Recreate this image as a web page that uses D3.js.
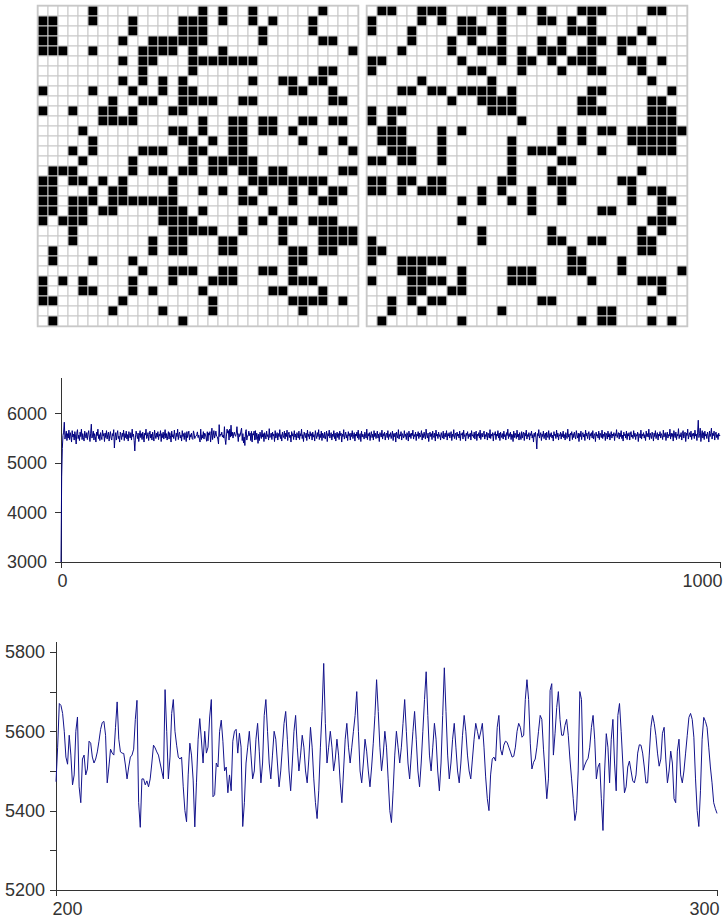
<!DOCTYPE html>
<html>
<head>
<meta charset="utf-8">
<script src="https://cdn.jsdelivr.net/npm/d3@7"></script>
<style>
body { margin: 0; background: #fff; }
svg { display: block; font-family: "Liberation Sans", Arial, sans-serif; }
.axis path, .axis line { stroke: #333; shape-rendering: crispEdges; }
.axis text { fill: #333; font-size: 18px; }
.cell { stroke: #c8c8c8; stroke-width: 1; }
</style>
</head>
<body>
<svg id="chart" width="724" height="920"></svg>
<script>
// black cells per row (column indices), 32 x 32 lattice
var gridLeft = [
  [5,16,18,21,28],
  [0,1,5,9,14,15,16,18,21,23,27],
  [0,1,9,14,15,16,22,27],
  [0,1,8,11,12,13,14,15,16,22,28,29],
  [0,1,2,5,10,11,12,13,15,18,31],
  [8,10,11,15,16,17,18,19,20,21],
  [10,15,28,29],
  [8,10,12,14,21,24,25,27,28],
  [0,5,9,12,14,15,25,26,29],
  [7,10,11,14,15,16,17,20,21,29,30],
  [0,3,6,7,9,13,14],
  [6,7,8,9,16,19,20,22,23,26,27,29,30],
  [4,13,14,16,19,20,22,23,25],
  [5,14,15,17,19,20,26,30],
  [3,5,10,11,12,15,16,19,20,28,31],
  [4,9,15,17,18,19,20,21],
  [1,2,3,9,11,12,14,15,17,18,20,21,23,24,30,31],
  [0,1,3,4,6,8,13,21,22,23,24,25,26,27,28],
  [0,1,5,7,8,13,16,18,20,22,25,27,29,30],
  [0,1,3,4,5,7,8,9,10,11,12,13,20,21,25,28,29],
  [0,1,3,4,6,7,12,13,14,16,23],
  [0,2,3,4,12,13,14,15,20,22,24,25,27,28,29],
  [3,13,14,15,16,17,20,24,28,29,30,31],
  [3,11,13,14,18,19,24,28,29,30,31],
  [1,11,13,14,18,19,25,26,28,29],
  [1,5,9,25,26],
  [10,13,14,15,18,19,22,23,25],
  [0,2,4,9,13,17,18,19,25,26,27],
  [0,4,5,9,11,16,23,24,28],
  [0,1,8,17,25,26,27,28,30],
  [7,12,17,26],
  [1,14]
];
var gridRight = [
  [1,2,5,6,7,12,13,15,17,21,22,23,28,29],
  [0,5,7,9,10,13,17,18,20,22],
  [0,4,9,10,11,13,20,21,22,27],
  [4,8,10,13,17,19,22,23,25,26,28],
  [3,8,11,12,13,15,17,18,19,21,22,25],
  [0,1,9,13,15,16,18,20,21,22,26,27,29],
  [0,10,11,15,19,22,23,27],
  [5,12,28],
  [3,4,6,7,9,10,11,12,14,22,23,30],
  [8,11,12,13,14,21,22,28,29],
  [0,2,3,12,13,14,21,22,23,28,29,30],
  [0,2,15,28,29,30],
  [1,2,3,7,9,19,21,23,24,26,27,28,29,30,31],
  [1,2,3,7,14,19,21,26,27,28,29,30],
  [2,3,4,7,14,16,17,18,23,27,28,29,30],
  [0,1,3,4,7,14,19,20],
  [14,18,27],
  [0,1,3,4,6,7,13,14,18,19,20,25,26],
  [0,1,3,5,6,7,11,13,16,19,26,28,29],
  [9,11,14,16,19,26,29,30],
  [16,23,24,29],
  [9,28,29,30],
  [11,18,27,29],
  [0,11,18,19,22,23,27,28],
  [0,1,20,27,28],
  [0,3,4,5,6,7,20,21,25],
  [3,4,5,9,14,15,16,20,21,25,31],
  [0,4,5,6,7,9,14,15,16,22,27,28,29],
  [4,5,8,9,29],
  [2,4,6,7,17,18,28],
  [2,5,13,23,24],
  [1,9,21,23,24,28,30]
];

// energy over the whole run, t = 0 .. 1000
var overviewRange = [0, 1000];
var overviewValues = [
  3000,4720,5290,5550,5620,5820,5480,5560,5640,5450,5590,5500,5660,5470,5610,5540,5420,5650,5520,5580,
  5460,5630,5540,5380,5600,5670,5490,5560,5450,5620,5530,5680,5470,5590,5510,5440,5640,5560,5500,5610,
  5470,5580,5650,5520,5430,5600,5780,5500,5560,5640,5460,5590,5530,5420,5620,5550,5680,5490,5570,5450,
  5610,5530,5470,5660,5540,5590,5430,5600,5510,5650,5480,5570,5620,5440,5560,5630,5500,5460,5590,5540,
  5670,5300,5520,5610,5460,5580,5650,5490,5540,5420,5620,5560,5470,5600,5530,5660,5450,5590,5510,5640,
  5480,5570,5440,5630,5550,5500,5610,5460,5680,5530,5580,5450,5240,5520,5640,5570,5490,5600,5430,5560,
  5650,5510,5590,5470,5620,5540,5420,5600,5560,5680,5490,5530,5610,5450,5570,5640,5500,5580,5460,5620,
  5530,5440,5660,5560,5490,5600,5520,5630,5470,5580,5540,5650,5430,5590,5510,5620,5480,5560,5670,5500,
  5590,5460,5540,5630,5480,5610,5550,5420,5640,5520,5570,5490,5660,5540,5450,5600,5530,5680,5470,5580,
  5620,5500,5560,5440,5650,5530,5590,5470,5610,5550,5430,5630,5510,5580,5640,5460,5570,5520,5600,5490,
  5473,5645,5590,5490,5530,5540,5570,5625,5510,5560,5480,5420,5680,5470,5565,5500,5630,5480,5600,5580,
  5520,5435,5628,5445,5605,5560,5630,5420,5560,5700,5470,5560,5650,5500,5560,5640,5540,5530,5480,5380,
  5771,5530,5580,5560,5620,5520,5560,5500,5730,5480,5370,5540,5680,5600,5650,5460,5680,5520,5760,5540,
  5620,5500,5580,5620,5560,5535,5600,5730,5560,5430,5590,5530,5560,5640,5700,5450,5590,5400,5520,5350,
  5630,5670,5460,5545,5540,5640,5550,5600,5450,5635,5420,5590,5560,5640,5460,5650,5470,5600,5540,5393,
  5580,5450,5620,5540,5490,5660,5520,5590,5430,5610,5560,5480,5640,5530,5570,5460,5690,5510,5550,5600,
  5470,5620,5540,5580,5430,5650,5500,5560,5610,5460,5590,5530,5670,5490,5570,5440,5620,5550,5510,5640,
  5480,5600,5530,5660,5450,5580,5620,5510,5560,5420,5630,5540,5590,5470,5650,5520,5580,5460,5610,5550,
  5500,5640,5470,5590,5540,5680,5490,5570,5430,5620,5560,5510,5600,5450,5660,5530,5580,5480,5630,5540,
  5590,5460,5620,5520,5570,5440,5650,5550,5490,5610,5530,5670,5470,5580,5510,5640,5450,5600,5560,5500,
  5620,5480,5560,5640,5430,5590,5540,5660,5500,5570,5610,5460,5580,5530,5650,5490,5600,5440,5560,5620,
  5510,5590,5470,5640,5550,5600,5420,5580,5530,5670,5480,5560,5620,5500,5570,5450,5630,5540,5590,5460,
  5600,5530,5650,5490,5570,5610,5440,5580,5540,5620,5500,5660,5470,5560,5590,5430,5640,5520,5580,5550,
  5480,5620,5560,5500,5680,5470,5590,5540,5610,5450,5570,5630,5510,5580,5460,5650,5530,5600,5490,5560,
  5640,5500,5580,5430,5610,5550,5520,5660,5480,5590,5540,5620,5460,5570,5600,5510,5650,5470,5580,5530,
  5610,5490,5560,5640,5450,5590,5530,5600,5420,5620,5560,5500,5670,5480,5570,5540,5630,5460,5590,5550,
  5500,5650,5530,5580,5470,5610,5560,5440,5640,5520,5590,5490,5600,5550,5660,5480,5570,5530,5620,5450,
  5580,5540,5630,5490,5600,5520,5570,5650,5460,5590,5510,5620,5540,5480,5680,5560,5500,5600,5430,5570,
  5620,5530,5590,5470,5640,5550,5510,5600,5440,5660,5540,5580,5490,5620,5530,5570,5460,5610,5550,5500,
  5640,5480,5570,5600,5520,5650,5460,5590,5540,5610,5500,5570,5630,5450,5580,5530,5670,5490,5560,5600,
  5470,5620,5540,5580,5500,5640,5450,5590,5560,5610,5480,5660,5530,5570,5440,5600,5550,5630,5490,5580,
  5530,5600,5460,5650,5540,5570,5510,5620,5480,5590,5640,5450,5580,5540,5610,5500,5660,5470,5560,5600,
  5520,5590,5640,5480,5570,5530,5620,5460,5600,5550,5500,5670,5490,5580,5540,5610,5440,5590,5560,5630,
  5470,5580,5540,5650,5500,5600,5450,5620,5560,5510,5590,5480,5640,5530,5570,5460,5610,5550,5680,5490,
  5590,5530,5620,5470,5580,5560,5430,5640,5510,5600,5550,5490,5660,5520,5580,5460,5610,5540,5470,5630,
  5500,5580,5620,5450,5600,5540,5660,5480,5570,5530,5610,5460,5590,5550,5640,5500,5570,5420,5600,5530,
  5620,5480,5280,5590,5540,5670,5500,5560,5610,5450,5580,5530,5640,5490,5570,5600,5460,5620,5540,5510,
  5650,5470,5590,5530,5610,5500,5560,5440,5630,5550,5580,5490,5660,5520,5600,5460,5570,5540,5620,5480,
  5590,5530,5640,5500,5570,5460,5610,5550,5490,5680,5520,5580,5440,5600,5560,5630,5470,5590,5510,5620,
  5540,5480,5650,5560,5500,5600,5430,5590,5530,5640,5470,5570,5610,5520,5580,5450,5660,5540,5600,5490,
  5570,5630,5460,5590,5540,5610,5500,5650,5480,5560,5590,5430,5620,5540,5570,5500,5640,5470,5600,5550,
  5510,5660,5490,5580,5530,5620,5450,5600,5560,5480,5640,5520,5590,5460,5570,5630,5500,5580,5540,5610,
  5450,5590,5540,5670,5510,5570,5610,5480,5600,5530,5650,5490,5560,5440,5620,5550,5580,5500,5640,5470,
  5590,5540,5610,5460,5580,5630,5520,5560,5490,5650,5530,5600,5470,5570,5540,5620,5430,5590,5560,5500,
  5660,5480,5580,5540,5610,5500,5570,5450,5640,5530,5590,5520,5680,5470,5600,5550,5490,5620,5560,5440,
  5600,5530,5650,5490,5570,5610,5460,5580,5540,5630,5500,5590,5550,5470,5660,5520,5580,5610,5450,5560,
  5620,5500,5570,5540,5680,5480,5600,5530,5590,5440,5650,5560,5510,5620,5470,5580,5540,5690,5490,5570,
  5530,5610,5460,5590,5650,5500,5570,5620,5430,5600,5550,5680,5480,5560,5610,5520,5640,5470,5590,5540,
  5600,5490,5660,5540,5580,5450,5620,5860,5510,5590,5700,5430,5560,5650,5500,5610,5470,5640,5540,5580,
  5490,5620,5560,5420,5640,5530,5590,5700,5480,5600,5550,5640,5460,5580,5620,5510,5570,5470,5600,5540,
  5560
];

// close-up, t = 200 .. 300 (every quarter step)
var detailRange = [200, 300];
var detailValues = [
  // 200 - 227.75
  5473,5560,5670,5665,5645,5600,5535,5517,5590,5540,
  5465,5490,5600,5636,5460,5420,5530,5540,5490,5505,
  5575,5570,5535,5520,5530,5548,5575,5605,5622,5625,
  5590,5470,5510,5555,5545,5540,5610,5674,5580,5548,
  5545,5544,5515,5480,5510,5535,5540,5555,5630,5678,
  5420,5358,5480,5480,5465,5475,5460,5480,5520,5565,
  5558,5548,5540,5520,5500,5480,5705,5600,5480,5535,
  5645,5680,5600,5565,5535,5530,5535,5460,5400,5372,
  5490,5570,5540,5477,5359,5470,5580,5632,5578,5520,
  5600,5545,5560,5636,5680,5435,5440,5520,5510,5600,
  5628,5575,5500,5510,5445,5490,5450,5575,5600,5605,
  5545,5595,
  // 228 - 264
  5560,5360,5420,5520,5560,5600,5540,5480,5500,5580,
  5620,5550,5470,5520,5640,5680,5600,5520,5480,5540,
  5600,5580,5520,5460,5500,5560,5620,5650,5580,5500,
  5450,5520,5600,5640,5560,5500,5540,5590,5560,5500,
  5470,5530,5610,5560,5480,5420,5380,5450,5560,5650,
  5771,5620,5520,5560,5600,5560,5500,5530,5580,5540,
  5470,5420,5500,5580,5620,5560,5520,5560,5600,5640,
  5700,5600,5500,5470,5520,5580,5550,5500,5460,5510,
  5570,5640,5730,5650,5560,5500,5540,5600,5560,5480,
  5400,5370,5450,5540,5600,5560,5520,5560,5620,5680,
  5600,5520,5480,5540,5600,5650,5580,5500,5460,5520,
  5600,5680,5750,5640,5540,5500,5560,5620,5580,5500,
  5450,5520,5640,5760,5650,5540,5480,5520,5580,5620,
  5560,5500,5470,5520,5590,5640,5600,5540,5500,5480,
  5530,5580,5620,5600,5580,
  // 264.25 - 300
  5598,5620,5560,5485,5430,5400,5490,5530,5535,5525,
  5610,5640,5555,5540,5565,5575,5572,5560,5548,5535,
  5537,5560,5600,5620,5610,5585,5590,5680,5730,5680,
  5570,5505,5522,5530,5560,5600,5640,5630,5555,5495,
  5430,5480,5703,5720,5540,5595,5660,5700,5630,5590,
  5590,5615,5630,5590,5530,5480,5430,5375,5400,5500,
  5700,5680,5502,5515,5525,5532,5560,5610,5640,5580,
  5480,5510,5520,5430,5350,5500,5594,5560,5470,5580,
  5630,5520,5450,5640,5670,5600,5520,5445,5460,5510,
  5525,5500,5475,5470,5490,5545,5566,5565,5545,5510,
  5470,5470,5540,5610,5640,5620,5590,5545,5512,5530,
  5595,5610,5530,5470,5500,5550,5520,5430,5420,5550,
  5580,5490,5470,5500,5545,5590,5635,5645,5630,5585,
  5480,5400,5360,5450,5580,5635,5625,5610,5560,5510,
  5470,5420,5405,5393
];

var overviewXTicks = [0, 1000];
var overviewYTicks = [3000, 4000, 5000, 6000];
var detailXTicks = [200, 300];
var detailYTicks = [5200, 5300, 5400, 5500, 5600, 5700, 5800];
var detailYLabels = [5200, 5400, 5600, 5800];

var svg = d3.select("#chart");
var cell = 10, n = 32;

function drawGrid(rows, x0, y0) {
  var xs = d3.scaleBand().domain(d3.range(n)).range([x0, x0 + n * cell]);
  var ys = d3.scaleBand().domain(d3.range(n)).range([y0, y0 + n * cell]);
  var cells = [];
  rows.forEach(function(r, j) {
    for (var i = 0; i < n; i++) cells.push({i: i, j: j, on: r.indexOf(i) >= 0});
  });
  var g = svg.append("g");
  g.selectAll("rect")
      .data(cells)
    .enter().append("rect")
      .attr("class", "cell")
      .attr("x", function(d) { return xs(d.i); })
      .attr("y", function(d) { return ys(d.j); })
      .attr("width", xs.bandwidth())
      .attr("height", ys.bandwidth())
      .style("fill", function(d) { return d.on ? "#000" : "#fff"; });
  g.append("rect")
      .attr("x", x0 - 0.5).attr("y", y0 - 0.5)
      .attr("width", n * cell + 1).attr("height", n * cell + 1)
      .style("fill", "none").style("stroke", "#c8c8c8").style("stroke-width", 1.5);
}

drawGrid(gridLeft, 38, 6);
drawGrid(gridRight, 367, 6);

function drawSeries(opt) {
  var x = d3.scaleLinear().domain(opt.xRange).range([opt.left, opt.right]);
  var y = d3.scaleLinear().domain(opt.yDomain).range([opt.bottom, opt.top]);
  var step = (opt.xRange[1] - opt.xRange[0]) / (opt.values.length - 1);

  var xAxis = svg.append("g")
      .attr("class", "axis")
      .attr("transform", "translate(0," + opt.bottom + ")")
      .call(d3.axisBottom(x).tickValues(opt.xTicks).tickFormat(d3.format("d"))
        .tickSize(6).tickSizeOuter(0).tickPadding(6));
  xAxis.selectAll(".tick text")
      .attr("text-anchor", function(d, i) { return i === 0 ? "start" : "end"; })
      .attr("dx", function(d, i) { return i === 0 ? -4 : 2; });

  var yAxis = svg.append("g")
      .attr("class", "axis")
      .attr("transform", "translate(" + opt.left + ",0)")
      .call(d3.axisLeft(y).tickValues(opt.yTicks).tickSize(6).tickSizeOuter(0)
        .tickPadding(opt.pad)
        .tickFormat(function(d) { return opt.yLabels.indexOf(d) >= 0 ? d : ""; }));
  yAxis.select(".domain").attr("d", "M0.5," + opt.top + "V" + opt.bottom);

  var line = d3.line()
      .x(function(d, i) { return x(opt.xRange[0] + i * step); })
      .y(function(d) { return y(d); });

  svg.append("path")
      .datum(opt.values)
      .attr("d", line)
      .style("fill", "none")
      .style("stroke", opt.color)
      .style("stroke-width", 1);
}

drawSeries({
  values: overviewValues, xRange: overviewRange, yDomain: [3000, 6712],
  left: 61, right: 720, top: 378, bottom: 562,
  xTicks: overviewXTicks, yTicks: overviewYTicks, yLabels: overviewYTicks,
  pad: 8, color: "#000080"
});

drawSeries({
  values: detailValues, xRange: detailRange, yDomain: [5200, 5825],
  left: 56, right: 717, top: 642, bottom: 890,
  xTicks: detailXTicks, yTicks: detailYTicks, yLabels: detailYLabels,
  pad: 5, color: "#14148c"
});
</script>
</body>
</html>
